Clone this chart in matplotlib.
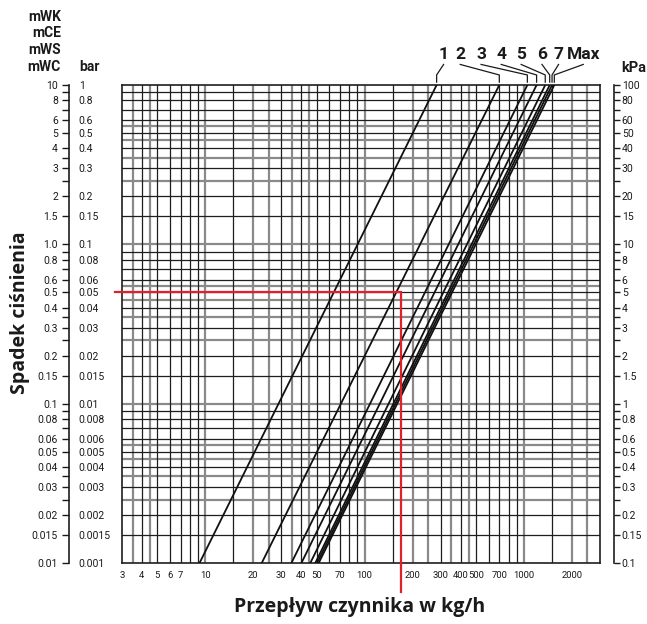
import matplotlib
matplotlib.use('Agg')
import matplotlib.pyplot as plt
from matplotlib.transforms import blended_transform_factory

# czcionka
plt.rcParams['font.family'] = ['Roboto', 'DejaVu Sans']

# krzywe: przepływ (kg/h) przy 0.01 mWC i przy 10 mWC
curve_names = ['1', '2', '3', '4', '5', '6', '7', 'Max']
flow_bottom = [9.2, 22.6, 34.7, 40.1, 45.6, 49.0, 50.3, 51.5]
flow_top = [283, 700, 1050, 1200, 1360, 1450, 1500, 1550]
p_bottom = 0.01
p_top = 10

# pozycje etykiet krzywych (kg/h)
label_x = [313, 398, 538, 720, 960, 1297, 1648, 2355]

# punkt odczytu (czerwona linia)
red_flow = 170
red_p = 0.5

# osie
mwc_ticks = [10, 8, 6, 5, 4, 3, 2, 1.5, 1.0, 0.8, 0.6, 0.5, 0.4, 0.3, 0.2, 0.15,
             0.1, 0.08, 0.06, 0.05, 0.04, 0.03, 0.02, 0.015, 0.01]
mwc_labels = ['10', '8', '6', '5', '4', '3', '2', '1.5', '1.0', '0.8', '0.6', '0.5',
              '0.4', '0.3', '0.2', '0.15', '0.1', '0.08', '0.06', '0.05', '0.04',
              '0.03', '0.02', '0.015', '0.01']
bar_labels = ['1', '0.8', '0.6', '0.5', '0.4', '0.3', '0.2', '0.15', '0.1', '0.08',
              '0.06', '0.05', '0.04', '0.03', '0.02', '0.015', '0.01', '0.008',
              '0.006', '0.005', '0.004', '0.003', '0.002', '0.0015', '0.001']
kpa_labels = ['100', '80', '60', '50', '40', '30', '20', '15', '10', '8', '6', '5',
              '4', '3', '2', '1.5', '1', '0.8', '0.6', '0.5', '0.4', '0.3', '0.2',
              '0.15', '0.1']
y_minor = [9, 7, 3.5, 2.5, 0.9, 0.7, 0.35, 0.25, 0.09, 0.07, 0.035, 0.025]

x_ticks = [3, 4, 5, 6, 7, 10, 20, 30, 40, 50, 70, 100, 200, 300, 400, 500, 700,
           1000, 2000]

# siatka
grid_x_dark = [4, 5, 6, 7, 8, 9, 15, 30, 40, 50, 60, 70, 80, 90, 150, 300, 400,
               500, 600, 700, 800, 900, 1500]
grid_x_gray = [3.5, 4.5, 10, 20, 25, 35, 45, 100, 200, 250, 350, 450, 1000, 2000, 2500]
grid_y_dark = [9, 8, 7, 6, 5, 4, 3, 2, 1.5, 0.9, 0.8, 0.7, 0.6, 0.5, 0.4, 0.3, 0.2,
               0.15, 0.09, 0.08, 0.07, 0.06, 0.05, 0.04, 0.03, 0.02, 0.015]
grid_y_gray = [5.5, 4.5, 3.5, 2.5, 1, 0.55, 0.45, 0.35, 0.25, 0.1, 0.055, 0.045,
               0.035, 0.025]

W, H = 647, 624
x0, x1 = 122, 600
y0, y1 = 563, 85
pos = [x0 / W, 1 - y0 / H, (x1 - x0) / W, (y0 - y1) / H]
tick_fs = 7.5
ink = '#1a1a1a'

fig = plt.figure(figsize=(6.47, 6.24), dpi=100)
ax = fig.add_axes(pos)
ax.set_xscale('log')
ax.set_yscale('log')
ax.set_xlim(3, 3000)
ax.set_ylim(0.01, 10)

dark = '#1e1e1e'
gray = '#8a8a8a'
for v in grid_x_gray:
    ax.axvline(v, color=gray, lw=1.6, zorder=1)
for v in grid_y_gray:
    ax.axhline(v, color=gray, lw=1.6, zorder=1)
for v in grid_x_dark:
    ax.axvline(v, color=dark, lw=0.9, zorder=2)
for v in grid_y_dark:
    ax.axhline(v, color=dark, lw=0.9, zorder=2)

for fb, ft in zip(flow_bottom, flow_top):
    ax.plot([fb, ft], [p_bottom, p_top], color='#111111', lw=1.3, zorder=4)

# czerwona linia
ax.plot([2.7, red_flow, red_flow], [red_p, red_p, 0.0066], color='#e3202a',
        lw=1.6, zorder=5, clip_on=False, solid_joinstyle='miter')

for s in ax.spines.values():
    s.set_color(dark)
    s.set_linewidth(1.2)

ax.set_xticks(x_ticks, [str(t) for t in x_ticks])
ax.xaxis.set_minor_locator(plt.NullLocator())
ax.yaxis.set_minor_locator(plt.NullLocator())
ax.set_yticks([])
ax.tick_params(axis='x', length=0, pad=6, labelsize=6.8, colors=ink)

# etykiety krzywych z odnośnikami
tr = blended_transform_factory(ax.transData, ax.transAxes)
for name, lx, ft in zip(curve_names, label_x, flow_top):
    ax.text(lx, 1.064, name, transform=tr, ha='center', va='center',
            fontsize=12.5, fontweight='bold', color=ink)
    ax.plot([lx, ft, ft], [1.043, 1.021, 1.006], transform=tr, color=ink,
            lw=0.9, clip_on=False)

# lewa oś: mWC i bar
axl = fig.add_axes([69 / W, pos[1], 0.0001, pos[3]])
axl.set_yscale('log')
axl.set_ylim(0.01, 10)
axl.set_xticks([])
for k in ['top', 'bottom', 'right']:
    axl.spines[k].set_visible(False)
axl.spines['left'].set_linewidth(1.2)
axl.spines['left'].set_color(dark)
axl.set_yticks(mwc_ticks, mwc_labels)
axl.set_yticks(y_minor, minor=True)
axl.yaxis.set_minor_formatter(plt.NullFormatter())
axl.tick_params(axis='y', which='both', length=5, width=1.0, pad=3, labelsize=tick_fs,
                colors=ink)
axl.patch.set_visible(False)

axb = axl.twinx()
axb.set_yscale('log')
axb.set_ylim(0.01, 10)
for k in ['top', 'bottom', 'right', 'left']:
    axb.spines[k].set_visible(False)
axb.set_yticks(mwc_ticks, bar_labels)
axb.yaxis.set_minor_locator(plt.NullLocator())
axb.tick_params(axis='y', length=0, pad=7, labelsize=tick_fs, colors=ink)

# prawa oś: kPa
axr = fig.add_axes([614 / W, pos[1], 0.0001, pos[3]])
axr.set_yscale('log')
axr.set_ylim(0.01, 10)
axr.set_xticks([])
for k in ['top', 'bottom', 'left']:
    axr.spines[k].set_visible(False)
axr.spines['right'].set_linewidth(1.2)
axr.spines['right'].set_color(dark)
axr.yaxis.tick_right()
axr.set_yticks(mwc_ticks, kpa_labels)
axr.set_yticks(y_minor, minor=True)
axr.yaxis.set_minor_formatter(plt.NullFormatter())
axr.tick_params(axis='y', which='both', length=4, width=1.0, pad=1.5, labelsize=tick_fs,
                colors=ink)
axr.patch.set_visible(False)

# jednostki
for txt, yy in zip(['mWK', 'mCE', 'mWS', 'mWC'], [17, 33, 50, 67]):
    fig.text(61 / W, 1 - yy / H, txt, ha='right', va='center', fontsize=10,
             fontweight='bold', color=ink)
fig.text(79 / W, 1 - 67 / H, 'bar', ha='left', va='center', fontsize=10,
         fontweight='bold', color=ink)
fig.text(621 / W, 1 - 68 / H, 'kPa', ha='left', va='center', fontsize=10.5,
         fontweight='bold', color=ink)

fig.text(20 / W, 1 - 313 / H, 'Spadek ciśnienia', rotation=90, ha='center',
         va='center', fontsize=14, fontweight='bold', color=ink,
         family=['Open Sans', 'DejaVu Sans'])
fig.text(360 / W, 1 - 607 / H, 'Przepływ czynnika w kg/h', ha='center',
         va='center', fontsize=14, fontweight='bold', color=ink,
         family=['Open Sans', 'DejaVu Sans'])

fig.savefig('out.png', dpi=100)
